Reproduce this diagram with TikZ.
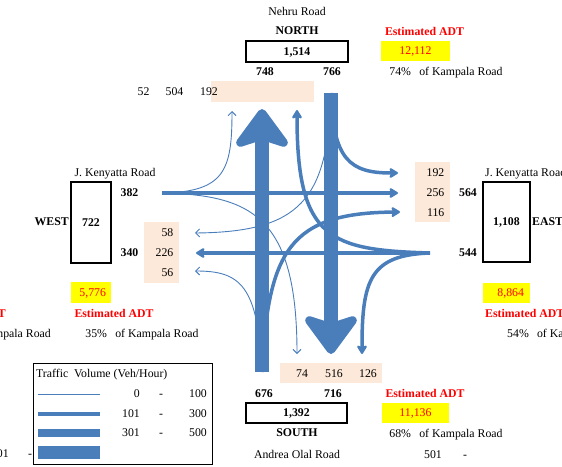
\documentclass[tikz,border=0pt]{standalone}
\usepackage{fontspec}
\setmainfont{Liberation Serif}
\usetikzlibrary{arrows.meta}

\definecolor{flujo}{RGB}{74,126,187}
\definecolor{salmon}{RGB}{252,233,217}
\definecolor{amarillo}{RGB}{255,255,0}

\tikzset{
  txt/.style={inner sep=0pt, text height=7.8pt, text depth=0pt, font=\fontsize{11.8}{14}\selectfont},
  heavy/.style={txt, font=\fontsize{11.8}{14}\selectfont\bfseries},
  adtlabel/.style={heavy, text=red},
  approach/.style={txt, draw, line width=1.2pt, inner sep=0pt},
  adtbox/.style={txt, fill=amarillo, text=red, inner sep=0pt},
  thinflow/.style={flujo, line width=0.9pt, -{Straight Barb[length=4pt,width=8pt]}},
  medflow/.style={flujo, line width=3.5pt, -{Stealth[round,length=10pt,width=12pt,inset=2pt]}},
  bigflow/.style={flujo, line width=14pt, -{Stealth[round,line width=10pt,length=44pt,width=64pt,inset=10pt]}}
}

\begin{document}
\begin{tikzpicture}[x=1pt, y=-1pt]
    \useasboundingbox (0,0) rectangle (562,466);
    \clip (0,0) rectangle (562,466);

    % Cajas de salida
    \fill[salmon] (211,81) rectangle (314,102);
    \fill[salmon] (144,222) rectangle (179,283);
    \fill[salmon] (415,162) rectangle (450,222);
    \fill[salmon] (280,363) rectangle (382,383);

    % Origenes de los accesos
    \coordinate (W) at (162,193);
    \coordinate (E) at (430,253);
    \coordinate (N) at (331,93);
    \coordinate (S) at (262,372);

    % Puntas de los giros
    \coordinate (wn) at (232,111);
    \coordinate (we) at (398,193);
    \coordinate (ws) at (297,354);
    \coordinate (en) at (297,110);
    \coordinate (ew) at (196,253);
    \coordinate (es) at (362,354);
    \coordinate (nw) at (195,233);
    \coordinate (ns) at (331,354);
    \coordinate (ne) at (398,173);
    \coordinate (sw) at (195,271);
    \coordinate (sn) at (262,109);
    \coordinate (se) at (400,212);

    % Acceso oeste
    \draw[thinflow] (W) .. controls (225,192) and (232,170) .. (wn);
    \draw[medflow] (W) -- (we);
    \draw[thinflow] (W) .. controls (250,195) and (297,215) .. (ws);

    % Acceso este
    \draw[medflow] (E) .. controls (330,250) and (297,240) .. (en);
    \draw[medflow] (E) -- (ew);
    \draw[medflow] (E) .. controls (370,255) and (362,280) .. (es);

    % Acceso norte
    \draw[thinflow] (N) .. controls (328,200) and (300,232) .. (nw);
    \draw[medflow] (N) .. controls (333,160) and (350,173) .. (ne);
    \draw[bigflow] (N) -- (ns);

    % Acceso sur
    \draw[thinflow] (S) .. controls (258,285) and (240,271) .. (sw);
    \draw[medflow] (S) .. controls (268,250) and (290,213) .. (se);
    \draw[bigflow] (S) -- (sn);

    % Norte
    \node[txt] (nroad) at (297,12) {Nehru Road};
    \node[heavy] (nname) at (297,31) {NORTH};
    \node[approach, minimum width=102pt, minimum height=21pt] (nbox) at (297,51.5) {\textbf{1,514}};
    \node[heavy] (nin) at (265,72) {748};
    \node[heavy] (nout) at (332,72) {766};
    \node[adtlabel] (nadtt) at (424.5,32) {Estimated ADT};
    \node[adtbox, minimum width=69pt, minimum height=20pt] (nadt) at (415.5,51) {12,112};
    \node[txt] (npct) at (446,72) {74\%\hspace{0.7em}of Kampala Road};
    \foreach \v/\x in {52/143.5, 504/174.5, 192/209}
        \node[txt] (nt\v) at (\x,92) {\v};

    % Oeste
    \node[txt] (wroad) at (115,173) {J. Kenyatta Road};
    \node[approach, minimum width=40pt, minimum height=81pt] (wbox) at (91,222.5) {\textbf{722}};
    \node[heavy, anchor=east] (wname) at (69,222) {WEST};
    \node[heavy] (win) at (129.5,193) {382};
    \node[heavy] (wout) at (129.5,253) {340};
    \foreach \v/\y in {58/233, 226/253, 56/273}
        \node[txt, anchor=east] (wt\v) at (173.5,\y) {\v};
    \node[adtbox, text width=30pt, align=right, inner xsep=5pt, minimum height=21pt] (wadt) at (91,292.5) {5,776};
    \node[adtlabel] (wadtt) at (114,314) {Estimated ADT};
    \node[txt] (wpct) at (142,334) {35\%\hspace{0.7em}of Kampala Road};
    \node[adtlabel, anchor=east] (fadtt) at (6,314) {Estimated ADT};
    \node[txt, anchor=east] (fpct) at (51,334) {Kampala Road};
    \node[txt, anchor=east] (fmin) at (9,454) {501};
    \node[txt] (fdash) at (30,454) {-};

    % Este
    \node[txt, anchor=west] (eroad) at (485,173) {J. Kenyatta Road};
    \node[approach, minimum width=47pt, minimum height=80pt] (ebox) at (506.5,222) {\textbf{1,108}};
    \node[heavy, anchor=west] (ename) at (532,222) {EAST};
    \node[heavy] (eout) at (468,193) {564};
    \node[heavy] (ein) at (468,253) {544};
    \foreach \v/\y in {192/173, 256/193, 116/213}
        \node[txt, anchor=east] (et\v) at (444.5,\y) {\v};
    \node[adtbox, text width=35pt, align=right, inner xsep=6pt, minimum height=20pt] (eadt) at (506.5,293) {8,864};
    \node[adtlabel, anchor=west] (eadtt) at (485,314) {Estimated ADT};
    \node[txt, anchor=west] (epct) at (507,334) {54\%\hspace{0.7em}of Kampala Road};

    % Sur
    \foreach \v/\x in {74/302, 516/334, 126/368}
        \node[txt] (st\v) at (\x,374) {\v};
    \node[heavy] (sout) at (264,394) {676};
    \node[heavy] (sin) at (333,394) {716};
    \node[approach, minimum width=101pt, minimum height=20pt] (sbox) at (296.5,413) {\textbf{1,392}};
    \node[heavy] (sname) at (297,433) {SOUTH};
    \node[txt] (sroad) at (297,455) {Andrea Olal Road};
    \node[adtlabel] (sadtt) at (425,394) {Estimated ADT};
    \node[adtbox, minimum width=67pt, minimum height=20pt] (sadt) at (415.5,413) {11,136};
    \node[txt] (spct) at (446,434) {68\%\hspace{0.7em}of Kampala Road};
    \node[txt] (smin) at (433,455) {501};
    \node[txt] (sdash) at (465,455) {-};

    % Leyenda
    \draw[line width=1pt] (33,363) rectangle (212,464);
    \node[txt, anchor=west] (ltitle) at (36,374) {Traffic\ \ Volume (Veh/Hour)};
    \foreach \y/\w in {394/1, 414/4, 433/8, 452/13}
        \draw[flujo, line width=\w pt] (38,\y) -- (100,\y);
    \foreach \y/\a/\b in {394/0/100, 414/101/300, 433/301/500} {
        \node[txt, anchor=east] (la\y) at (140,\y) {\a};
        \node[txt] (ld\y) at (161,\y) {-};
        \node[txt, anchor=east] (lb\y) at (207,\y) {\b};
    }
\end{tikzpicture}
\end{document}
